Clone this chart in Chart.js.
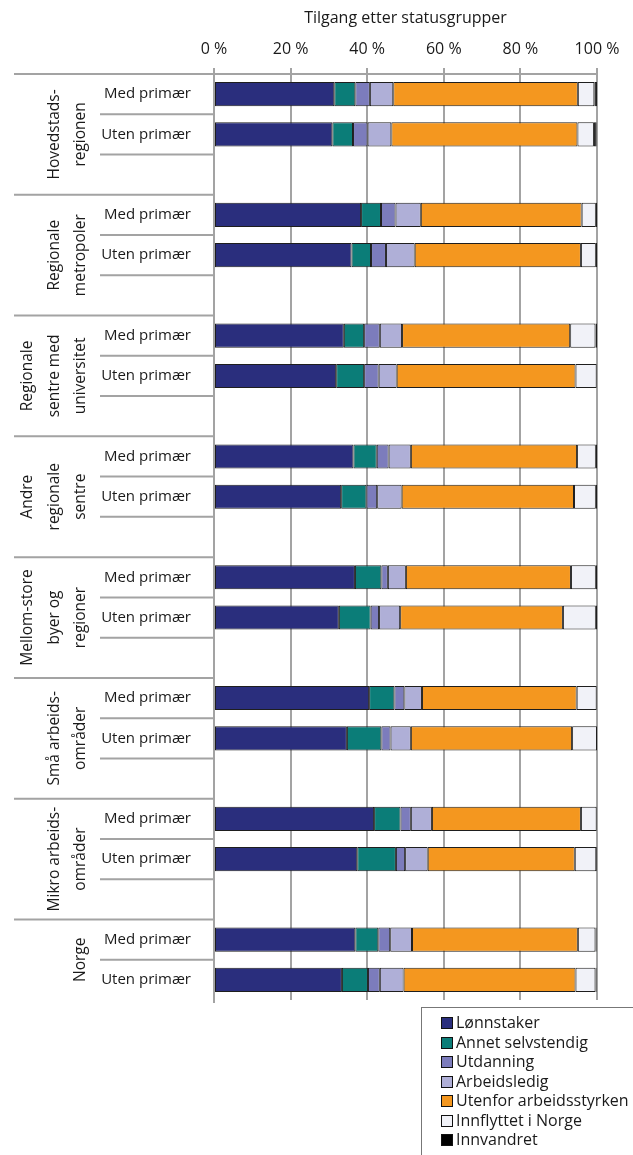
<!DOCTYPE html>
<html>
<head>
<meta charset="utf-8">
<script src="https://cdn.jsdelivr.net/npm/chart.js@4.4.1/dist/chart.umd.min.js"></script>
<style>
 html, body { margin: 0; padding: 0; background: #fff; }
 #wrap { position: relative; width: 633px; height: 1155px; overflow: hidden; }
 #legend {
  position: absolute; left: 421px; top: 1007px; width: 230px; height: 160px;
  border: 1px solid #777; box-sizing: border-box; padding: 5px 0 0 19px;
  font: 16px "Open Sans", sans-serif; color: #1a1a1a;
 }
 #legend div { height: 19.5px; line-height: 19.5px; white-space: nowrap; }
 #legend span.box {
  display: inline-block; width: 10px; height: 10px; border: 1px solid #111;
  margin-right: 3px; vertical-align: -1px;
 }
</style>
</head>
<body>
<div id="wrap">
 <canvas id="chart" width="633" height="1155"></canvas>
 <div id="legend"></div>
</div>
<script>
// categories
const groups = [
 'Hovedstads-\nregionen', 'Regionale\nmetropoler', 'Regionale\nsentre med\nuniversitet',
 'Andre\nregionale\nsentre', 'Mellom-store\nbyer og\nregioner', 'Små arbeids-\nområder',
 'Mikro arbeids-\nområder', 'Norge'
];
const rowLabels = ['Med primær', 'Uten primær'];
const xTicks = [0, 20, 40, 60, 80, 100];

// series values, two per group (Med primær, Uten primær)
const lonnstaker       = [31.4, 30.9, 38.4, 35.9, 33.9, 31.9, 36.4, 33.2, 36.8, 32.6, 40.5, 34.7, 41.8, 37.4, 36.9, 33.4];
const annetSelvstendig = [5.5, 5.4, 5.2, 5.1, 5.3, 7.3, 6.1, 6.6, 6.9, 8.3, 6.6, 9.0, 6.9, 10.1, 6.0, 6.8];
const utdanning        = [3.8, 3.8, 3.8, 3.9, 4.1, 3.8, 3.1, 2.8, 1.7, 2.2, 2.6, 2.4, 2.7, 2.4, 3.1, 3.1];
const arbeidsledig     = [6.1, 6.2, 6.6, 7.5, 5.8, 4.7, 5.8, 6.4, 4.7, 5.5, 4.6, 5.3, 5.5, 5.9, 5.7, 6.2];
const utenfor          = [48.2, 48.6, 42.0, 43.4, 43.9, 46.7, 43.4, 45.0, 43.1, 42.5, 40.4, 42.1, 38.9, 38.4, 43.3, 44.9];
const innflyttet       = [4.3, 4.3, 3.7, 3.9, 6.6, 5.5, 4.9, 5.7, 6.5, 8.6, 5.2, 6.5, 4.1, 5.6, 4.6, 5.2];
const innvandret       = [0.7, 0.7, 0.4, 0.3, 0.4, 0.1, 0.3, 0.3, 0.3, 0.3, 0.1, 0.1, 0.1, 0.2, 0.3, 0.3];

const seriesNames  = ['Lønnstaker', 'Annet selvstendig', 'Utdanning', 'Arbeidsledig', 'Utenfor arbeidsstyrken', 'Innflyttet i Norge', 'Innvandret'];
const seriesValues = [lonnstaker, annetSelvstendig, utdanning, arbeidsledig, utenfor, innflyttet, innvandret];
const seriesColors = ['#2a2e7d', '#0b7d78', '#7c7cbc', '#afafd7', '#f4971f', '#f1f2f8', '#000000'];

// build rows: 2 bars per group + an empty row between groups
const labels = [];
groups.forEach((g, i) => {
 rowLabels.forEach(r => labels.push(r));
 if (i < groups.length - 1) labels.push('');
});

function expand(values) {
 const out = [];
 groups.forEach((g, i) => {
  out.push(values[i * 2], values[i * 2 + 1]);
  if (i < groups.length - 1) out.push(null);
 });
 return out;
}

const lineColor = '#a3a3a3';

// draws the frame lines and rotated group labels on the left
const groupLabelPlugin = {
 id: 'groupLabels',
 afterDraw(chart) {
  const ctx = chart.ctx;
  const a = chart.chartArea;
  const rowH = (a.bottom - a.top) / labels.length;
  ctx.save();
  ctx.strokeStyle = lineColor;
  ctx.lineWidth = 2;
  ctx.beginPath();
  ctx.moveTo(14, a.top); ctx.lineTo(a.right + 1, a.top);
  ctx.moveTo(a.left, a.top); ctx.lineTo(a.left, a.bottom + 3);
  groups.forEach((g, i) => {
   const y0 = a.top + i * 3 * rowH;
   if (i > 0) { ctx.moveTo(14, y0); ctx.lineTo(a.left, y0); }
   ctx.moveTo(100, y0 + rowH); ctx.lineTo(a.left, y0 + rowH);
   if (i < groups.length - 1) { ctx.moveTo(100, y0 + 2 * rowH); ctx.lineTo(a.left, y0 + 2 * rowH); }
  });
  ctx.stroke();

  ctx.fillStyle = '#1a1a1a';
  ctx.font = '15.5px "Open Sans"';
  ctx.textAlign = 'center';
  ctx.textBaseline = 'middle';
  groups.forEach((g, i) => {
   const rows = i < groups.length - 1 ? 3 : 2;
   const yc = a.top + (i * 3 + rows / 2) * rowH;
   const lines = g.split('\n');
   lines.forEach((t, k) => {
    const x = 81 - (lines.length - 1 - k) * 26.5;
    ctx.save();
    ctx.translate(x, yc);
    ctx.rotate(-Math.PI / 2);
    ctx.fillText(t, 0, 0);
    ctx.restore();
   });
  });
  ctx.restore();
 }
};

Chart.defaults.font.family = '"Open Sans", sans-serif';
Chart.defaults.font.size = 16;
Chart.defaults.color = '#1a1a1a';

new Chart(document.getElementById('chart'), {
 type: 'bar',
 data: {
  labels: labels,
  datasets: seriesNames.map((name, i) => ({
   label: name,
   data: expand(seriesValues[i]),
   backgroundColor: seriesColors[i],
   borderColor: '#1e1e1e',
   borderWidth: 1,
   borderSkipped: false,
   categoryPercentage: 1,
   barPercentage: 0.6
  }))
 },
 options: {
  indexAxis: 'y',
  responsive: false,
  animation: false,
  layout: { padding: { left: 0, right: 36, top: 0, bottom: 155 } },
  plugins: { legend: { display: false }, tooltip: { enabled: false } },
  scales: {
   x: {
    position: 'top',
    stacked: true,
    min: 0,
    max: 100,
    afterBuildTicks: scale => { scale.ticks = xTicks.map(v => ({ value: v })); },
    afterFit: scale => { scale.height = 74; },
    ticks: { callback: v => v + ' %', padding: 9, maxRotation: 0 },
    grid: { color: lineColor, lineWidth: 2, tickLength: 6 },
    border: { display: false },
    title: { display: true, text: 'Tilgang etter statusgrupper', padding: { top: 9, bottom: 4 } }
   },
   y: {
    stacked: true,
    afterFit: scale => { scale.width = 214; },
    grid: { display: false },
    border: { display: false },
    ticks: { padding: 15, autoSkip: false, font: { size: 15 } }
   }
  }
 },
 plugins: [groupLabelPlugin]
});

// legend
const legend = document.getElementById('legend');
seriesNames.forEach((name, i) => {
 const row = document.createElement('div');
 row.innerHTML = '<span class="box" style="background:' + seriesColors[i] + '"></span>' + name;
 legend.appendChild(row);
});
</script>
</body>
</html>
